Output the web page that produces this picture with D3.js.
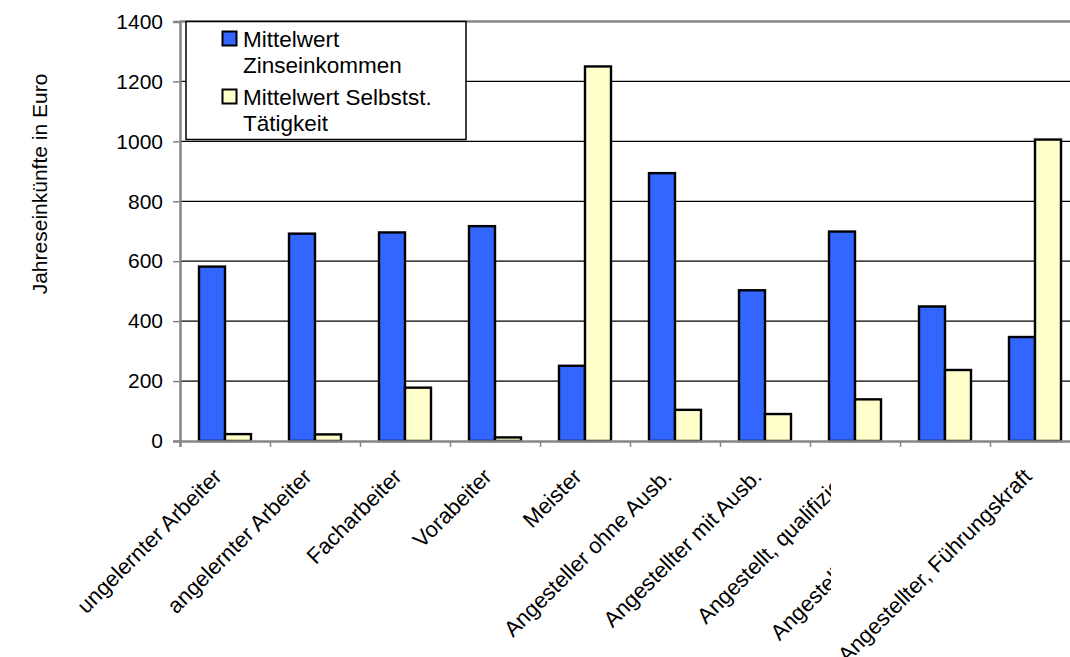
<!DOCTYPE html>
<html>
<head>
<meta charset="utf-8">
<script src="https://cdn.jsdelivr.net/npm/d3@7"></script>
<style>
	body { margin: 0; background: #fff; }
	text { font-family: "Liberation Sans", Arial, sans-serif; fill: #000; }
</style>
</head>
<body>
<div id="chart-area"></div>
<script>

// chart data
var categories = ["ungelernter Arbeiter", "angelernter Arbeiter", "Facharbeiter", "Vorabeiter", "Meister",
	"Angesteller ohne Ausb.", "Angestellter mit Ausb.", "Angestellt, qualifiziert",
	"Angestellt, hochqualifiz.", "Angestellter, Führungskraft"];
var seriesNames = ["Mittelwert Zinseinkommen", "Mittelwert Selbstst. Tätigkeit"];
var legendLines = [["Mittelwert", "Zinseinkommen"], ["Mittelwert Selbstst.", "Tätigkeit"]];
var zinsValues = [582, 692, 696, 717, 251, 894, 503, 699, 449, 347];
var selbstValues = [23, 22, 178, 12, 1250, 104, 90, 139, 237, 1006];
var yTicks = [0, 200, 400, 600, 800, 1000, 1200, 1400];
var yTitle = "Jahreseinkünfte in Euro";
// labels that are cut off in the original picture
var clippedLabels = [7, 8];


BarChart = function(_parentElement) {
	this.parentElement = _parentElement;
	this.initVis();
}

BarChart.prototype.initVis = function() {
	var vis = this;

	vis.margin = { top: 21.5, right: 0, bottom: 216, left: 180 };
	vis.width = 900;
	vis.height = 441 - vis.margin.top;

	vis.colors = ["#3366FF", "#FFFFCC"];
	vis.axisColor = "#868686";

	vis.svg = d3.select("#" + vis.parentElement).append("svg")
		.attr("width", 1070)
		.attr("height", 657)
		.style("display", "block");

	vis.g = vis.svg.append("g")
		.attr("transform", "translate(" + vis.margin.left + "," + vis.margin.top + ")");

	// scales
	vis.x0 = d3.scaleBand().domain(d3.range(categories.length)).range([0, vis.width]);
	vis.x1 = d3.scaleBand().domain([0, 1]).range([19, 71]);
	vis.y = d3.scaleLinear().domain([0, 1400]).range([vis.height, 0]);

	vis.wrangleData();
}

BarChart.prototype.wrangleData = function() {
	var vis = this;

	vis.displayData = categories.map((c, i) => ({
		name: c,
		values: [zinsValues[i], selbstValues[i]]
	}));

	vis.updateVis();
}

BarChart.prototype.updateVis = function() {
	var vis = this;

	// gridlines
	vis.g.selectAll(".grid").data(yTicks.filter(d => d > 0)).enter().append("line")
		.attr("class", "grid")
		.attr("x1", 0).attr("x2", vis.width)
		.attr("y1", d => vis.y(d)).attr("y2", d => vis.y(d))
		.attr("stroke", d => d == 1400 ? vis.axisColor : "#000")
		.attr("stroke-width", d => d == 1400 ? 2.5 : 1.2);

	// bars
	var groups = vis.g.selectAll(".cat").data(vis.displayData).enter().append("g")
		.attr("class", "cat")
		.attr("transform", (d, i) => "translate(" + vis.x0(i) + ",0)");

	groups.selectAll("rect").data(d => d.values).enter().append("rect")
		.attr("x", (d, j) => vis.x1(j))
		.attr("width", vis.x1.bandwidth())
		.attr("y", d => vis.y(d))
		.attr("height", d => vis.height - vis.y(d))
		.attr("fill", (d, j) => vis.colors[j])
		.attr("stroke", "#000")
		.attr("stroke-width", 2.4);

	// y axis
	var yAxis = d3.axisLeft(vis.y).tickValues(yTicks).tickSize(7).tickPadding(10).tickFormat(d3.format("d"));
	var yG = vis.g.append("g").call(yAxis);
	yG.select(".domain").attr("stroke", vis.axisColor).attr("stroke-width", 2.5);
	yG.selectAll(".tick line").attr("stroke", vis.axisColor).attr("stroke-width", 1.5);
	yG.selectAll("text").style("font-size", "21px").attr("fill", "#000");

	// x axis, ticks on category borders
	var xAxis = d3.axisBottom(d3.scaleLinear().domain([0, categories.length]).range([0, vis.width]))
		.tickValues(d3.range(categories.length + 1)).tickSize(6).tickFormat("");
	var xG = vis.g.append("g").attr("transform", "translate(0," + vis.height + ")").call(xAxis);
	xG.select(".domain").attr("stroke", vis.axisColor).attr("stroke-width", 2.5);
	xG.selectAll(".tick line").attr("stroke", vis.axisColor).attr("stroke-width", 1.5);

	// category labels
	vis.svg.append("clipPath").attr("id", "label-clip")
		.append("rect").attr("x", 0).attr("y", 0).attr("width", 831).attr("height", 657);

	var labels = vis.svg.selectAll(".xlabel").data(vis.displayData).enter().append("g")
		.attr("class", "xlabel")
		.attr("clip-path", (d, i) => clippedLabels.includes(i) ? "url(#label-clip)" : null);

	labels.append("text")
		.attr("text-anchor", "end")
		.attr("transform", (d, i) => {
			var cx = vis.margin.left + vis.x0(i) + vis.x0.bandwidth() / 2;
			return "translate(" + (cx - 2) + ",478) rotate(-45)";
		})
		.style("font-size", "22px")
		.text(d => d.name);

	// y axis title
	vis.svg.append("text")
		.attr("transform", "translate(47,184) rotate(-90)")
		.attr("text-anchor", "middle")
		.style("font-size", "21px")
		.text(yTitle);

	// legend
	var legend = vis.svg.append("g").attr("transform", "translate(186,21.5)");
	legend.append("rect")
		.attr("width", 280).attr("height", 118)
		.attr("fill", "#fff").attr("stroke", "#000").attr("stroke-width", 1.5);

	seriesNames.forEach((s, j) => {
		var item = legend.append("g").attr("transform", "translate(0," + (j * 58) + ")");
		item.append("rect")
			.attr("x", 36.5).attr("y", 10)
			.attr("width", 14).attr("height", 14)
			.attr("fill", vis.colors[j]).attr("stroke", "#000").attr("stroke-width", 2);
		item.append("text")
			.attr("x", 57).attr("y", 25)
			.style("font-size", "22.5px")
			.selectAll("tspan").data(legendLines[j]).enter().append("tspan")
			.attr("x", 57)
			.attr("dy", (d, k) => k == 0 ? 0 : 26)
			.text(d => d);
	});
}

var chart = new BarChart("chart-area");
</script>
</body>
</html>
